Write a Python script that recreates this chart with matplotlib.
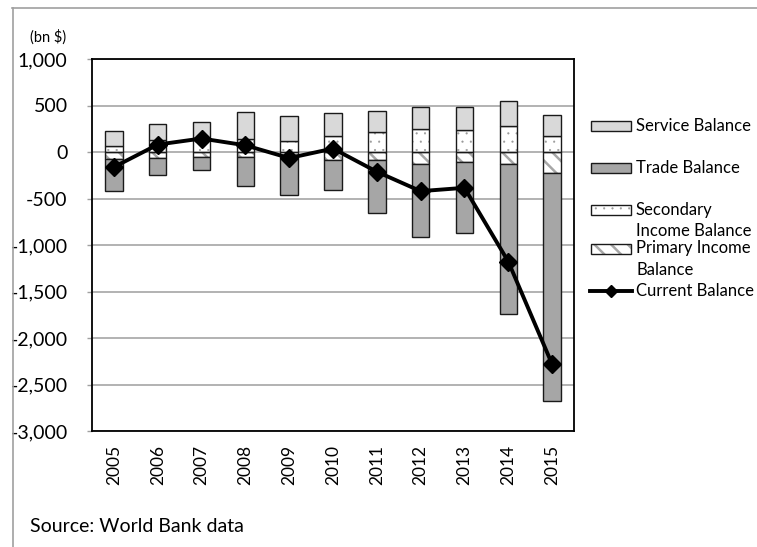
import matplotlib
matplotlib.use("Agg")
import matplotlib.pyplot as plt
from matplotlib.patches import Rectangle
from matplotlib.lines import Line2D
import numpy as np

years = ["2005", "2006", "2007", "2008", "2009", "2010", "2011", "2012", "2013", "2014", "2015"]
service = [169, 177, 174, 295, 270, 248, 224, 238, 242, 270, 224]
secondary = [62, 126, 150, 137, 119, 173, 216, 245, 238, 281, 173]
primary = [-72, -61, -55, -50, -30, -90, -82, -126, -108, -133, -223]
trade = [-342, -191, -143, -318, -435, -316, -573, -785, -763, -1614, -2454]
current = [-162, 80, 145, 72, -65, 37, -212, -421, -385, -1178, -2281]
yticks = [1000, 500, 0, -500, -1000, -1500, -2000, -2500, -3000]

plt.rcParams['font.family'] = ['Lato', 'DejaVu Sans']

W, H = 757, 547
fig = plt.figure(figsize=(W / 100, H / 100), dpi=100)

def fx(x):
    return x / W

def fy(y):
    return 1 - y / H

ax = fig.add_axes([fx(92), fy(431), fx(574) - fx(92), fy(59) - fy(431)])

x = np.arange(len(years))
bw = 0.40
c_service = '#d9d9d9'
c_trade = '#a6a6a6'
hatch_gray = '#a6a6a6'
dot_gray = '#999999'
edge = '#1a1a1a'
dot_hatch = '..'
diag_hatch = '\\\\'
DOT_LW = 0.3
DIAG_LW = 1.8

sec = np.array(secondary)
pri = np.array(primary)

# secondary income (white, dotted)
plt.rcParams['hatch.linewidth'] = DOT_LW
bars = ax.bar(x, sec, bw, bottom=0, color='white', edgecolor=dot_gray, hatch=dot_hatch, linewidth=0, zorder=2)
for b in bars:
    if hasattr(b, 'set_hatch_linewidth'):
        b.set_hatch_linewidth(DOT_LW)
ax.bar(x, sec, bw, bottom=0, facecolor='none', edgecolor=edge, linewidth=1.0, zorder=3)
# service on top
ax.bar(x, service, bw, bottom=sec, color=c_service, edgecolor=edge, linewidth=1.0, zorder=3)
# primary income (white, diagonal)
plt.rcParams['hatch.linewidth'] = DIAG_LW
bars = ax.bar(x, pri, bw, bottom=0, color='white', edgecolor=hatch_gray, hatch=diag_hatch, linewidth=0, zorder=2)
for b in bars:
    if hasattr(b, 'set_hatch_linewidth'):
        b.set_hatch_linewidth(DIAG_LW)
ax.bar(x, pri, bw, bottom=0, facecolor='none', edgecolor=edge, linewidth=1.0, zorder=3)
# trade below
ax.bar(x, trade, bw, bottom=pri, color=c_trade, edgecolor=edge, linewidth=1.0, zorder=3)

ax.plot(x, current, color='black', linewidth=2.8, marker='D', markersize=9, zorder=5)

ax.set_xlim(-0.5, len(years) - 0.5)
ax.set_ylim(-3000, 1000)
ax.set_yticks(yticks)
ax.set_yticklabels([f"{v:,}" for v in yticks], fontsize=14)
ax.set_xticks(x)
ax.set_xticklabels(years, rotation=90, fontsize=12.5)
ax.tick_params(axis='x', length=0, pad=10)
ax.tick_params(axis='y', length=3.6, width=1.0, color='#a0a0a0', pad=14)
ax.yaxis.grid(True, color='#a6a6a6', linewidth=1.2, zorder=0)
ax.set_axisbelow(True)
for s in ax.spines.values():
    s.set_color('black')
    s.set_linewidth(1.3)

fig.text(fx(66), fy(37), "(bn $)", fontsize=10.5, ha='right', va='center')
fig.text(fx(30), fy(526), "Source: World Bank data", fontsize=14, ha='left', va='center')

# outer frame
fig.add_artist(Line2D([fx(12), fx(757)], [fy(7.5), fy(7.5)], color='#a0a0a0', linewidth=1.2))
fig.add_artist(Line2D([fx(12.5), fx(12.5)], [fy(7.5), fy(547)], color='#a0a0a0', linewidth=1.2))

# legend (manual)
px0, px1 = 591, 631
ph = 10
tx = 636
lfs = 12

def patch(yc, fc, hatch=None, hcol=hatch_gray, hlw=None):
    r = Rectangle((fx(px0), fy(yc + ph / 2)), fx(px1) - fx(px0), fy(yc - ph / 2) - fy(yc + ph / 2),
                  transform=fig.transFigure, facecolor=fc, edgecolor=hcol if hatch else edge,
                  hatch=hatch, linewidth=0 if hatch else 1.0)
    if hatch and hlw is not None and hasattr(r, 'set_hatch_linewidth'):
        r.set_hatch_linewidth(hlw)
    fig.add_artist(r)
    if hatch:
        r2 = Rectangle((fx(px0), fy(yc + ph / 2)), fx(px1) - fx(px0), fy(yc - ph / 2) - fy(yc + ph / 2),
                       transform=fig.transFigure, facecolor='none', edgecolor=edge, linewidth=1.0)
        fig.add_artist(r2)

patch(126, c_service)
fig.text(fx(tx), fy(126), "Service Balance", fontsize=lfs, va='center', ha='left')
patch(168, c_trade)
fig.text(fx(tx), fy(168), "Trade Balance", fontsize=lfs, va='center', ha='left')
plt.rcParams['hatch.linewidth'] = DOT_LW
patch(210, 'white', dot_hatch, dot_gray, DOT_LW)
fig.text(fx(tx), fy(210), "Secondary", fontsize=lfs, va='center', ha='left')
fig.text(fx(tx), fy(231), "Income Balance", fontsize=lfs, va='center', ha='left')
plt.rcParams['hatch.linewidth'] = DIAG_LW
patch(249, 'white', diag_hatch, hatch_gray, DIAG_LW)
fig.text(fx(tx), fy(248), "Primary Income", fontsize=lfs, va='center', ha='left')
fig.text(fx(tx), fy(270), "Balance", fontsize=lfs, va='center', ha='left')
fig.add_artist(Line2D([fx(590), fx(632)], [fy(291), fy(291)], color='black', linewidth=2.8))
fig.add_artist(Line2D([fx(611)], [fy(291)], color='black', marker='D', markersize=6))
fig.text(fx(tx), fy(291), "Current Balance", fontsize=lfs, va='center', ha='left')

fig.savefig("out.png", dpi=100)
